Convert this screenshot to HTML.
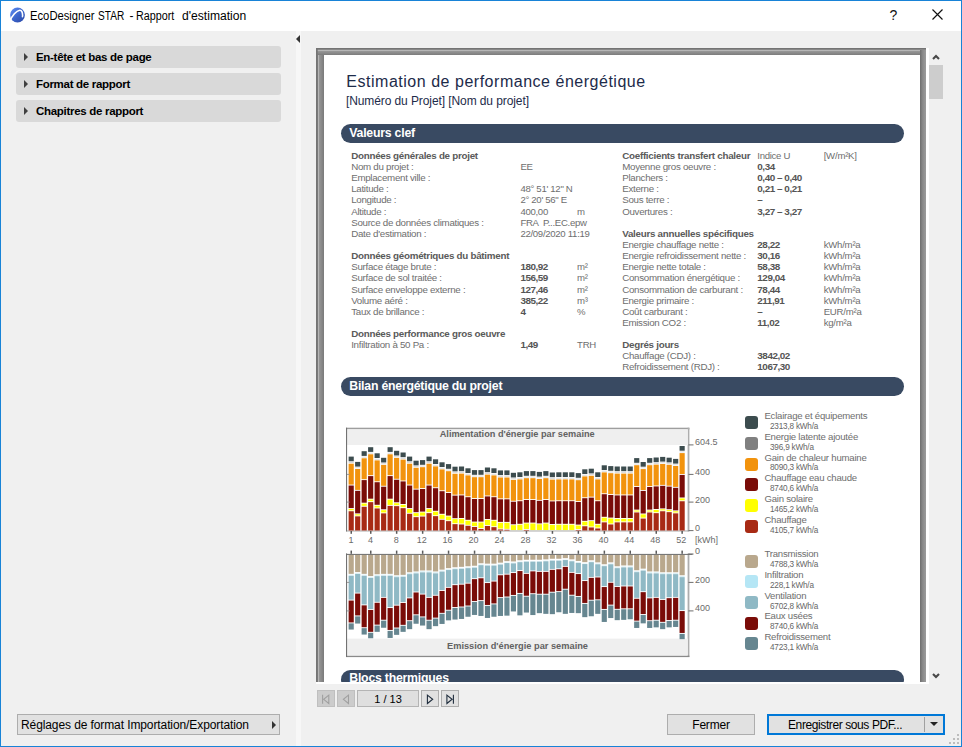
<!DOCTYPE html>
<html lang="fr">
<head>
<meta charset="utf-8">
<title>EcoDesigner STAR - Rapport d'estimation</title>
<style>
*{box-sizing:border-box;margin:0;padding:0}
html,body{width:962px;height:747px;overflow:hidden;background:#f0f0f0}
body{font-family:"Liberation Sans",sans-serif;font-size:12px;color:#000;position:relative}
.abs{position:absolute}
#win{position:absolute;left:0;top:0;width:962px;height:747px;background:#f0f0f0;border:1px solid #1883d7;border-top-width:1px}
#titlebar{position:absolute;left:0;top:0;width:960px;height:30px;background:#fff}
#titlebar .t{position:absolute;left:29.5px;top:7.5px;font-size:12px;color:#000;white-space:nowrap;transform-origin:0 50%}
.acc{position:absolute;left:15px;width:265px;height:22px;background:#d9d9d9;border-radius:3px}
.acc span{position:absolute;left:20px;top:4.5px;font-weight:bold;font-size:11.5px;letter-spacing:-0.3px;white-space:nowrap}
.acc i{position:absolute;left:8px;top:6.9px;width:0;height:0;border-left:4.5px solid #404040;border-top:4px solid transparent;border-bottom:4px solid transparent}
#split{position:absolute;left:295px;top:30px;width:5px;height:715px;background:#f7f7f7}
.btn{position:absolute;background:#e1e1e1;border:1px solid #adadad;font-size:12px;white-space:nowrap}
.nav{position:absolute;top:689px;height:17px;width:18px;background:#e1e1e1;border:1px solid #adadad}
.nav.dis{background:#cccccc;border-color:#bfbfbf}
/* preview */
#frame{position:absolute;left:315px;top:47px;width:610px;height:634px;background:#8c8c8c;overflow:hidden}
#page{position:absolute;left:8px;top:7px;width:596px;height:640px;background:#fff;overflow:hidden}
#page, #page *{font-family:"Liberation Sans",sans-serif}
.sec{position:absolute;left:16.7px;width:563.5px;height:18.7px;background:#394a62;border-radius:9.4px;color:#fff;font-weight:bold;font-size:12.3px;line-height:18px;padding-left:8.6px;white-space:nowrap;letter-spacing:-0.23px}
.kv{position:absolute;font-size:9.75px;letter-spacing:-0.29px;line-height:11px;height:11px;color:#6e6e6e;white-space:pre}
.kv b{color:#5a5a5a;font-size:9.8px;letter-spacing:-0.27px}
.kv.v{font-size:9.6px;letter-spacing:-0.3px}
.kv.u{font-size:9.6px;letter-spacing:-0.23px}
.kv.v b{font-size:9.9px;letter-spacing:-0.45px;color:#555}
.lg{position:absolute;left:421px;width:13px;height:13px;border-radius:3px}
.lt{position:absolute;left:440.4px;font-size:9.6px;line-height:10px;color:#6e6e6e;white-space:nowrap;letter-spacing:-0.22px}
.lv{position:absolute;left:446px;font-size:8.2px;line-height:9px;color:#666;white-space:nowrap;letter-spacing:-0.2px}
</style>
</head>
<body>
<div id="win">
  <div id="titlebar">
    <svg class="abs" style="left:8px;top:6px" width="18" height="18" viewBox="0 0 18 18">
      <defs><linearGradient id="ig" x1="0" y1="0" x2="1" y2="1"><stop offset="0" stop-color="#5f8ff5"/><stop offset="0.55" stop-color="#3a62c8"/><stop offset="1" stop-color="#2a48a4"/></linearGradient></defs>
      <circle cx="8.5" cy="8" r="7.4" fill="url(#ig)"/>
      <path d="M0.5 14.8 C3.1 8.4 7.5 3.6 10.7 3.2 C12.8 3.1 13.7 5.7 13.6 9.0" fill="none" stroke="#fff" stroke-width="1.6" stroke-linecap="round"/>
      <circle cx="13.4" cy="9.7" r="0.8" fill="#fff"/>
    </svg>
    <div class="t" style="left:28.8px;transform:scaleX(0.937)">EcoDesigner</div><div class="t" style="left:97.1px;transform:scaleX(0.842)">STAR</div><div class="t" style="left:128.4px">-</div><div class="t" style="left:134.6px;transform:scaleX(0.895)">Rapport</div><div class="t" style="left:180.7px;transform:scaleX(1.01)">d'estimation</div>
    <div class="abs" style="left:888.5px;top:6px;font-size:14px;color:#111">?</div>
    <svg class="abs" style="left:930.2px;top:7.4px" width="13" height="13" viewBox="0 0 13 13"><path d="M1.5 1.5 L11.5 11.5 M11.5 1.5 L1.5 11.5" stroke="#111" stroke-width="1.15" fill="none"/></svg>
  </div>

  <!-- left panel -->
  <div class="acc" style="top:45px"><i></i><span>En-tête et bas de page</span></div>
  <div class="acc" style="top:72px"><i></i><span>Format de rapport</span></div>
  <div class="acc" style="top:99px"><i></i><span>Chapitres de rapport</span></div>
  <div id="split"></div>
  <div class="abs" style="left:295px;top:33.5px;width:0;height:0;border-right:4.5px solid #333;border-top:4px solid transparent;border-bottom:4px solid transparent"></div>

  <div class="btn" style="left:16px;top:713px;width:263px;height:21px"><span class="abs" style="left:3px;top:3px;letter-spacing:-0.1px">Réglages de format Importation/Exportation</span>
    <i class="abs" style="left:254px;top:5.5px;width:0;height:0;border-left:4.5px solid #333;border-top:4px solid transparent;border-bottom:4px solid transparent"></i></div>

  <!-- preview frame -->
  <div id="frame">
    <div class="abs" style="left:0;top:0;width:8px;height:634px;background:linear-gradient(90deg,#747474 0,#747474 1.3px,#b6b6b6 2.0px,#b6b6b6 2.5px,#969696 3.3px,#7a7a7a 8px)"></div>
    <div class="abs" style="left:0;top:0;width:611px;height:7px;background:linear-gradient(180deg,#747474 0,#747474 1.3px,#b6b6b6 2.0px,#b6b6b6 2.5px,#969696 3.3px,#7c7c7c 7px)"></div>
    <div class="abs" style="left:0;top:0;width:2px;height:634px;background:linear-gradient(90deg,#747474 0,#747474 1.3px,rgba(116,116,116,0) 2px)"></div>
    <div class="abs" style="left:604px;top:2px;width:6px;height:632px;background:linear-gradient(90deg,#6e6e6e,#8a8a8a 45%,#9c9c9c)"></div>
    <div id="page">
      <div class="abs" style="left:22.3px;top:17.5px;font-size:16px;letter-spacing:0.52px;color:#1d2b4a;white-space:nowrap">Estimation de performance énergétique</div>
      <div class="abs" style="left:21.9px;top:38.5px;font-size:12px;letter-spacing:-0.09px;color:#1d2b4a;white-space:nowrap">[Numéro du Projet] [Nom du projet]</div>
      <div class="sec" style="top:69px">Valeurs clef</div>
      <div class="kv " style="left:27.2px;top:95px"><b>Données générales de projet</b></div><div class="kv " style="left:27.2px;top:106px">Nom du projet :</div><div class="kv " style="left:27.2px;top:117px">Emplacement ville :</div><div class="kv " style="left:27.2px;top:128px">Latitude :</div><div class="kv " style="left:27.2px;top:139px">Longitude :</div><div class="kv " style="left:27.2px;top:151px">Altitude :</div><div class="kv " style="left:27.2px;top:162px">Source de données climatiques :</div><div class="kv " style="left:27.2px;top:173px">Date d'estimation :</div><div class="kv " style="left:27.2px;top:195px"><b>Données géométriques du bâtiment</b></div><div class="kv " style="left:27.2px;top:206px">Surface étage brute :</div><div class="kv " style="left:27.2px;top:217px">Surface de sol traitée :</div><div class="kv " style="left:27.2px;top:229px">Surface enveloppe externe :</div><div class="kv " style="left:27.2px;top:240px">Volume aéré :</div><div class="kv " style="left:27.2px;top:251px">Taux de brillance :</div><div class="kv " style="left:27.2px;top:273px"><b>Données performance gros oeuvre</b></div><div class="kv " style="left:27.2px;top:284px">Infiltration à 50 Pa :</div><div class="kv v" style="left:196.4px;top:106px">EE</div><div class="kv v" style="left:196.4px;top:128px">48° 51' 12" N</div><div class="kv v" style="left:196.4px;top:139px">2° 20' 56" E</div><div class="kv v" style="left:196.4px;top:151px">400,00</div><div class="kv v" style="left:196.4px;top:162px">FRA  P...EC.epw</div><div class="kv v" style="left:196.4px;top:173px">22/09/2020 11:19</div><div class="kv v" style="left:196.4px;top:206px"><b>180,92</b></div><div class="kv v" style="left:196.4px;top:217px"><b>156,59</b></div><div class="kv v" style="left:196.4px;top:229px"><b>127,46</b></div><div class="kv v" style="left:196.4px;top:240px"><b>385,22</b></div><div class="kv v" style="left:196.4px;top:251px"><b>4</b></div><div class="kv v" style="left:196.4px;top:284px"><b>1,49</b></div><div class="kv u" style="left:253px;top:151px">m</div><div class="kv u" style="left:253px;top:206px">m²</div><div class="kv u" style="left:253px;top:217px">m²</div><div class="kv u" style="left:253px;top:229px">m²</div><div class="kv u" style="left:253px;top:240px">m³</div><div class="kv u" style="left:253px;top:251px">%</div><div class="kv u" style="left:253px;top:284px">TRH</div><div class="kv " style="left:298.2px;top:95px"><b>Coefficients transfert chaleur</b></div><div class="kv " style="left:298.2px;top:106px">Moyenne gros oeuvre :</div><div class="kv " style="left:298.2px;top:117px">Planchers :</div><div class="kv " style="left:298.2px;top:128px">Externe :</div><div class="kv " style="left:298.2px;top:139px">Sous terre :</div><div class="kv " style="left:298.2px;top:151px">Ouvertures :</div><div class="kv " style="left:298.2px;top:173px"><b>Valeurs annuelles spécifiques</b></div><div class="kv " style="left:298.2px;top:184px">Energie chauffage nette :</div><div class="kv " style="left:298.2px;top:195px">Energie refroidissement nette :</div><div class="kv " style="left:298.2px;top:206px">Energie nette totale :</div><div class="kv " style="left:298.2px;top:217px">Consommation énergétique :</div><div class="kv " style="left:298.2px;top:229px">Consommation de carburant :</div><div class="kv " style="left:298.2px;top:240px">Energie primaire :</div><div class="kv " style="left:298.2px;top:251px">Coût carburant :</div><div class="kv " style="left:298.2px;top:262px">Emission CO2 :</div><div class="kv " style="left:298.2px;top:284px"><b>Degrés jours</b></div><div class="kv " style="left:298.2px;top:295px">Chauffage (CDJ) :</div><div class="kv " style="left:298.2px;top:306px">Refroidissement (RDJ) :</div><div class="kv v" style="left:433.3px;top:95px">Indice U</div><div class="kv v" style="left:433.3px;top:106px"><b>0,34</b></div><div class="kv v" style="left:433.3px;top:117px"><b>0,40 – 0,40</b></div><div class="kv v" style="left:433.3px;top:128px"><b>0,21 – 0,21</b></div><div class="kv v" style="left:433.3px;top:139px"><b>–</b></div><div class="kv v" style="left:433.3px;top:151px"><b>3,27 – 3,27</b></div><div class="kv v" style="left:433.3px;top:184px"><b>28,22</b></div><div class="kv v" style="left:433.3px;top:195px"><b>30,16</b></div><div class="kv v" style="left:433.3px;top:206px"><b>58,38</b></div><div class="kv v" style="left:433.3px;top:217px"><b>129,04</b></div><div class="kv v" style="left:433.3px;top:229px"><b>78,44</b></div><div class="kv v" style="left:433.3px;top:240px"><b>211,91</b></div><div class="kv v" style="left:433.3px;top:251px"><b>–</b></div><div class="kv v" style="left:433.3px;top:262px"><b>11,02</b></div><div class="kv v" style="left:433.3px;top:295px"><b>3842,02</b></div><div class="kv v" style="left:433.3px;top:306px"><b>1067,30</b></div><div class="kv u" style="left:499.7px;top:95px">[W/m²K]</div><div class="kv u" style="left:499.7px;top:184px">kWh/m²a</div><div class="kv u" style="left:499.7px;top:195px">kWh/m²a</div><div class="kv u" style="left:499.7px;top:206px">kWh/m²a</div><div class="kv u" style="left:499.7px;top:217px">kWh/m²a</div><div class="kv u" style="left:499.7px;top:229px">kWh/m²a</div><div class="kv u" style="left:499.7px;top:240px">kWh/m²a</div><div class="kv u" style="left:499.7px;top:251px">EUR/m²a</div><div class="kv u" style="left:499.7px;top:262px">kg/m²a</div>
      <div class="sec" style="top:322px">Bilan énergétique du projet</div>
      <svg class="abs" style="left:0;top:0" width="596" height="640" viewBox="0 0 596 640" font-family="Liberation Sans, sans-serif">
<rect x="22.5" y="373.6" width="342.0" height="227.60000000000002" fill="#fff"/>
<rect x="22.0" y="372.7" width="343.4" height="1.8" fill="#9e9e9e"/>
<rect x="363.6" y="372.7" width="1.8" height="229.3" fill="#adadad"/>
<rect x="22.0" y="600.6" width="343.4" height="1.5" fill="#8a8a8a"/>
<rect x="23.1" y="374.20000000000005" width="340.8" height="15.799999999999978" fill="#efefef"/>
<rect x="23.1" y="583.6" width="340.8" height="16.800000000000022" fill="#efefef"/>
<rect x="22.0" y="372.7" width="1.1" height="229.3" fill="#727272"/>
<rect x="22.5" y="475.6" width="342.0" height="1" fill="#8c8c8c"/>
<rect x="20.5" y="476.6" width="346.0" height="21.8" fill="#fff"/>
<rect x="24.62" y="401.60" width="5.15" height="4.70" fill="#3c4c4e"/><rect x="24.62" y="407.00" width="5.15" height="1.00" fill="#d9d9d9"/><rect x="24.62" y="408.70" width="5.15" height="20.90" fill="#f2930d"/><rect x="24.62" y="430.50" width="5.15" height="22.60" fill="#7a0c08"/><rect x="24.62" y="454.00" width="5.15" height="1.35" fill="#ffff00"/><rect x="24.62" y="456.25" width="5.15" height="19.25" fill="#a82a14"/><rect x="31.11" y="406.90" width="5.15" height="4.70" fill="#3c4c4e"/><rect x="31.11" y="412.30" width="5.15" height="1.00" fill="#d9d9d9"/><rect x="31.11" y="414.00" width="5.15" height="20.90" fill="#f2930d"/><rect x="31.11" y="435.80" width="5.15" height="22.60" fill="#7a0c08"/><rect x="31.11" y="459.30" width="5.15" height="1.15" fill="#ffff00"/><rect x="31.11" y="461.35" width="5.15" height="14.15" fill="#a82a14"/><rect x="37.60" y="396.20" width="5.15" height="4.70" fill="#3c4c4e"/><rect x="37.60" y="401.60" width="5.15" height="1.00" fill="#d9d9d9"/><rect x="37.60" y="403.30" width="5.15" height="20.90" fill="#f2930d"/><rect x="37.60" y="425.10" width="5.15" height="22.60" fill="#7a0c08"/><rect x="37.60" y="448.60" width="5.15" height="2.25" fill="#ffff00"/><rect x="37.60" y="451.75" width="5.15" height="23.75" fill="#a82a14"/><rect x="44.09" y="392.20" width="5.15" height="4.70" fill="#3c4c4e"/><rect x="44.09" y="397.60" width="5.15" height="1.00" fill="#d9d9d9"/><rect x="44.09" y="399.30" width="5.15" height="20.90" fill="#f2930d"/><rect x="44.09" y="421.10" width="5.15" height="22.60" fill="#7a0c08"/><rect x="44.09" y="444.60" width="5.15" height="1.65" fill="#ffff00"/><rect x="44.09" y="447.15" width="5.15" height="28.35" fill="#a82a14"/><rect x="50.58" y="398.30" width="5.15" height="4.70" fill="#3c4c4e"/><rect x="50.58" y="403.70" width="5.15" height="1.00" fill="#d9d9d9"/><rect x="50.58" y="405.40" width="5.15" height="20.90" fill="#f2930d"/><rect x="50.58" y="427.20" width="5.15" height="22.60" fill="#7a0c08"/><rect x="50.58" y="450.70" width="5.15" height="1.85" fill="#ffff00"/><rect x="50.58" y="453.45" width="5.15" height="22.05" fill="#a82a14"/><rect x="57.07" y="402.80" width="5.15" height="4.70" fill="#3c4c4e"/><rect x="57.07" y="408.20" width="5.15" height="1.00" fill="#d9d9d9"/><rect x="57.07" y="409.90" width="5.15" height="20.90" fill="#f2930d"/><rect x="57.07" y="431.70" width="5.15" height="22.60" fill="#7a0c08"/><rect x="57.07" y="455.20" width="5.15" height="2.25" fill="#ffff00"/><rect x="57.07" y="458.35" width="5.15" height="17.15" fill="#a82a14"/><rect x="63.56" y="392.20" width="5.15" height="4.70" fill="#3c4c4e"/><rect x="63.56" y="397.60" width="5.15" height="1.00" fill="#d9d9d9"/><rect x="63.56" y="399.30" width="5.15" height="20.90" fill="#f2930d"/><rect x="63.56" y="421.10" width="5.15" height="22.60" fill="#7a0c08"/><rect x="63.56" y="444.60" width="5.15" height="5.35" fill="#ffff00"/><rect x="63.56" y="450.85" width="5.15" height="24.65" fill="#a82a14"/><rect x="70.05" y="395.80" width="5.15" height="4.70" fill="#3c4c4e"/><rect x="70.05" y="401.20" width="5.15" height="1.00" fill="#d9d9d9"/><rect x="70.05" y="402.90" width="5.15" height="20.90" fill="#f2930d"/><rect x="70.05" y="424.70" width="5.15" height="22.60" fill="#7a0c08"/><rect x="70.05" y="448.20" width="5.15" height="2.05" fill="#ffff00"/><rect x="70.05" y="451.15" width="5.15" height="24.35" fill="#a82a14"/><rect x="76.54" y="397.50" width="5.15" height="4.70" fill="#3c4c4e"/><rect x="76.54" y="402.90" width="5.15" height="1.00" fill="#d9d9d9"/><rect x="76.54" y="404.60" width="5.15" height="20.90" fill="#f2930d"/><rect x="76.54" y="426.40" width="5.15" height="22.60" fill="#7a0c08"/><rect x="76.54" y="449.90" width="5.15" height="2.35" fill="#ffff00"/><rect x="76.54" y="453.15" width="5.15" height="22.35" fill="#a82a14"/><rect x="83.03" y="401.60" width="5.15" height="4.70" fill="#3c4c4e"/><rect x="83.03" y="407.00" width="5.15" height="1.00" fill="#d9d9d9"/><rect x="83.03" y="408.70" width="5.15" height="20.90" fill="#f2930d"/><rect x="83.03" y="430.50" width="5.15" height="22.60" fill="#7a0c08"/><rect x="83.03" y="454.00" width="5.15" height="3.85" fill="#ffff00"/><rect x="83.03" y="458.75" width="5.15" height="16.75" fill="#a82a14"/><rect x="89.51" y="405.70" width="5.15" height="4.70" fill="#3c4c4e"/><rect x="89.51" y="411.10" width="5.15" height="1.00" fill="#d9d9d9"/><rect x="89.51" y="412.80" width="5.15" height="20.90" fill="#f2930d"/><rect x="89.51" y="434.60" width="5.15" height="22.60" fill="#7a0c08"/><rect x="89.51" y="458.10" width="5.15" height="3.15" fill="#ffff00"/><rect x="89.51" y="462.15" width="5.15" height="13.35" fill="#a82a14"/><rect x="96.00" y="405.10" width="5.15" height="4.70" fill="#3c4c4e"/><rect x="96.00" y="410.50" width="5.15" height="1.00" fill="#d9d9d9"/><rect x="96.00" y="412.20" width="5.15" height="20.90" fill="#f2930d"/><rect x="96.00" y="434.00" width="5.15" height="22.60" fill="#7a0c08"/><rect x="96.00" y="457.50" width="5.15" height="3.15" fill="#ffff00"/><rect x="96.00" y="461.55" width="5.15" height="13.95" fill="#a82a14"/><rect x="102.49" y="401.60" width="5.15" height="4.70" fill="#3c4c4e"/><rect x="102.49" y="407.00" width="5.15" height="1.00" fill="#d9d9d9"/><rect x="102.49" y="408.70" width="5.15" height="20.90" fill="#f2930d"/><rect x="102.49" y="430.50" width="5.15" height="22.60" fill="#7a0c08"/><rect x="102.49" y="454.00" width="5.15" height="3.25" fill="#ffff00"/><rect x="102.49" y="458.15" width="5.15" height="17.35" fill="#a82a14"/><rect x="108.98" y="404.30" width="5.15" height="4.70" fill="#3c4c4e"/><rect x="108.98" y="409.70" width="5.15" height="1.00" fill="#d9d9d9"/><rect x="108.98" y="411.40" width="5.15" height="20.90" fill="#f2930d"/><rect x="108.98" y="433.20" width="5.15" height="22.60" fill="#7a0c08"/><rect x="108.98" y="456.70" width="5.15" height="3.55" fill="#ffff00"/><rect x="108.98" y="461.15" width="5.15" height="14.35" fill="#a82a14"/><rect x="115.47" y="407.30" width="5.15" height="4.70" fill="#3c4c4e"/><rect x="115.47" y="412.70" width="5.15" height="1.00" fill="#d9d9d9"/><rect x="115.47" y="414.40" width="5.15" height="20.90" fill="#f2930d"/><rect x="115.47" y="436.20" width="5.15" height="22.60" fill="#7a0c08"/><rect x="115.47" y="459.70" width="5.15" height="4.15" fill="#ffff00"/><rect x="115.47" y="464.75" width="5.15" height="10.75" fill="#a82a14"/><rect x="121.96" y="409.10" width="5.15" height="4.70" fill="#3c4c4e"/><rect x="121.96" y="414.50" width="5.15" height="1.00" fill="#d9d9d9"/><rect x="121.96" y="416.20" width="5.15" height="20.90" fill="#f2930d"/><rect x="121.96" y="438.00" width="5.15" height="22.60" fill="#7a0c08"/><rect x="121.96" y="461.50" width="5.15" height="3.75" fill="#ffff00"/><rect x="121.96" y="466.15" width="5.15" height="9.35" fill="#a82a14"/><rect x="128.45" y="411.70" width="5.15" height="4.70" fill="#3c4c4e"/><rect x="128.45" y="417.10" width="5.15" height="1.00" fill="#d9d9d9"/><rect x="128.45" y="418.80" width="5.15" height="20.90" fill="#f2930d"/><rect x="128.45" y="440.60" width="5.15" height="22.60" fill="#7a0c08"/><rect x="128.45" y="464.10" width="5.15" height="4.15" fill="#ffff00"/><rect x="128.45" y="469.15" width="5.15" height="6.35" fill="#a82a14"/><rect x="134.94" y="411.50" width="5.15" height="4.70" fill="#3c4c4e"/><rect x="134.94" y="416.90" width="5.15" height="1.00" fill="#d9d9d9"/><rect x="134.94" y="418.60" width="5.15" height="20.90" fill="#f2930d"/><rect x="134.94" y="440.40" width="5.15" height="22.60" fill="#7a0c08"/><rect x="134.94" y="463.90" width="5.15" height="4.65" fill="#ffff00"/><rect x="134.94" y="469.45" width="5.15" height="6.05" fill="#a82a14"/><rect x="141.43" y="413.30" width="5.15" height="4.70" fill="#3c4c4e"/><rect x="141.43" y="418.70" width="5.15" height="1.00" fill="#d9d9d9"/><rect x="141.43" y="420.40" width="5.15" height="20.90" fill="#f2930d"/><rect x="141.43" y="442.20" width="5.15" height="22.60" fill="#7a0c08"/><rect x="141.43" y="465.70" width="5.15" height="4.15" fill="#ffff00"/><rect x="141.43" y="470.75" width="5.15" height="4.75" fill="#a82a14"/><rect x="147.92" y="415.10" width="5.15" height="4.70" fill="#3c4c4e"/><rect x="147.92" y="420.50" width="5.15" height="1.00" fill="#d9d9d9"/><rect x="147.92" y="422.20" width="5.15" height="20.90" fill="#f2930d"/><rect x="147.92" y="444.00" width="5.15" height="22.60" fill="#7a0c08"/><rect x="147.92" y="467.50" width="5.15" height="3.55" fill="#ffff00"/><rect x="147.92" y="471.95" width="5.15" height="3.55" fill="#a82a14"/><rect x="154.41" y="415.10" width="5.15" height="4.70" fill="#3c4c4e"/><rect x="154.41" y="420.50" width="5.15" height="1.00" fill="#d9d9d9"/><rect x="154.41" y="422.20" width="5.15" height="20.90" fill="#f2930d"/><rect x="154.41" y="444.00" width="5.15" height="22.60" fill="#7a0c08"/><rect x="154.41" y="467.50" width="5.15" height="5.55" fill="#ffff00"/><rect x="154.41" y="473.95" width="5.15" height="1.55" fill="#a82a14"/><rect x="160.89" y="412.50" width="5.15" height="4.70" fill="#3c4c4e"/><rect x="160.89" y="417.90" width="5.15" height="1.00" fill="#d9d9d9"/><rect x="160.89" y="419.60" width="5.15" height="20.90" fill="#f2930d"/><rect x="160.89" y="441.40" width="5.15" height="22.60" fill="#7a0c08"/><rect x="160.89" y="464.90" width="5.15" height="5.15" fill="#ffff00"/><rect x="160.89" y="470.95" width="5.15" height="4.55" fill="#a82a14"/><rect x="167.38" y="413.30" width="5.15" height="4.70" fill="#3c4c4e"/><rect x="167.38" y="418.70" width="5.15" height="1.00" fill="#d9d9d9"/><rect x="167.38" y="420.40" width="5.15" height="20.90" fill="#f2930d"/><rect x="167.38" y="442.20" width="5.15" height="22.60" fill="#7a0c08"/><rect x="167.38" y="465.70" width="5.15" height="5.55" fill="#ffff00"/><rect x="167.38" y="472.15" width="5.15" height="3.35" fill="#a82a14"/><rect x="173.87" y="415.40" width="5.15" height="4.70" fill="#3c4c4e"/><rect x="173.87" y="420.80" width="5.15" height="1.00" fill="#d9d9d9"/><rect x="173.87" y="422.50" width="5.15" height="20.90" fill="#f2930d"/><rect x="173.87" y="444.30" width="5.15" height="22.60" fill="#7a0c08"/><rect x="173.87" y="467.80" width="5.15" height="5.75" fill="#ffff00"/><rect x="173.87" y="474.45" width="5.15" height="1.05" fill="#a82a14"/><rect x="180.36" y="415.40" width="5.15" height="4.70" fill="#3c4c4e"/><rect x="180.36" y="420.80" width="5.15" height="1.00" fill="#d9d9d9"/><rect x="180.36" y="422.50" width="5.15" height="20.90" fill="#f2930d"/><rect x="180.36" y="444.30" width="5.15" height="22.60" fill="#7a0c08"/><rect x="180.36" y="467.80" width="5.15" height="6.05" fill="#ffff00"/><rect x="180.36" y="474.75" width="5.15" height="0.75" fill="#a82a14"/><rect x="186.85" y="417.80" width="5.15" height="4.70" fill="#3c4c4e"/><rect x="186.85" y="423.20" width="5.15" height="1.00" fill="#d9d9d9"/><rect x="186.85" y="424.90" width="5.15" height="20.90" fill="#f2930d"/><rect x="186.85" y="446.70" width="5.15" height="22.60" fill="#7a0c08"/><rect x="186.85" y="470.20" width="5.15" height="4.85" fill="#ffff00"/><rect x="193.34" y="417.30" width="5.15" height="4.70" fill="#3c4c4e"/><rect x="193.34" y="422.70" width="5.15" height="1.00" fill="#d9d9d9"/><rect x="193.34" y="424.40" width="5.15" height="20.90" fill="#f2930d"/><rect x="193.34" y="446.20" width="5.15" height="22.60" fill="#7a0c08"/><rect x="193.34" y="469.70" width="5.15" height="5.35" fill="#ffff00"/><rect x="199.83" y="416.10" width="5.15" height="4.70" fill="#3c4c4e"/><rect x="199.83" y="421.50" width="5.15" height="1.00" fill="#d9d9d9"/><rect x="199.83" y="423.20" width="5.15" height="20.90" fill="#f2930d"/><rect x="199.83" y="445.00" width="5.15" height="22.60" fill="#7a0c08"/><rect x="199.83" y="468.50" width="5.15" height="5.55" fill="#ffff00"/><rect x="199.83" y="474.95" width="5.15" height="0.55" fill="#a82a14"/><rect x="206.32" y="416.10" width="5.15" height="4.70" fill="#3c4c4e"/><rect x="206.32" y="421.50" width="5.15" height="1.00" fill="#d9d9d9"/><rect x="206.32" y="423.20" width="5.15" height="20.90" fill="#f2930d"/><rect x="206.32" y="445.00" width="5.15" height="22.60" fill="#7a0c08"/><rect x="206.32" y="468.50" width="5.15" height="6.55" fill="#ffff00"/><rect x="212.81" y="416.90" width="5.15" height="4.70" fill="#3c4c4e"/><rect x="212.81" y="422.30" width="5.15" height="1.00" fill="#d9d9d9"/><rect x="212.81" y="424.00" width="5.15" height="20.90" fill="#f2930d"/><rect x="212.81" y="445.80" width="5.15" height="22.60" fill="#7a0c08"/><rect x="212.81" y="469.30" width="5.15" height="5.75" fill="#ffff00"/><rect x="219.29" y="416.10" width="5.15" height="4.70" fill="#3c4c4e"/><rect x="219.29" y="421.50" width="5.15" height="1.00" fill="#d9d9d9"/><rect x="219.29" y="423.20" width="5.15" height="20.90" fill="#f2930d"/><rect x="219.29" y="445.00" width="5.15" height="22.60" fill="#7a0c08"/><rect x="219.29" y="468.50" width="5.15" height="6.55" fill="#ffff00"/><rect x="225.78" y="417.50" width="5.15" height="4.70" fill="#3c4c4e"/><rect x="225.78" y="422.90" width="5.15" height="1.00" fill="#d9d9d9"/><rect x="225.78" y="424.60" width="5.15" height="20.90" fill="#f2930d"/><rect x="225.78" y="446.40" width="5.15" height="22.60" fill="#7a0c08"/><rect x="225.78" y="469.90" width="5.15" height="5.15" fill="#ffff00"/><rect x="232.27" y="417.30" width="5.15" height="4.70" fill="#3c4c4e"/><rect x="232.27" y="422.70" width="5.15" height="1.00" fill="#d9d9d9"/><rect x="232.27" y="424.40" width="5.15" height="20.90" fill="#f2930d"/><rect x="232.27" y="446.20" width="5.15" height="22.60" fill="#7a0c08"/><rect x="232.27" y="469.70" width="5.15" height="5.35" fill="#ffff00"/><rect x="238.76" y="417.30" width="5.15" height="4.70" fill="#3c4c4e"/><rect x="238.76" y="422.70" width="5.15" height="1.00" fill="#d9d9d9"/><rect x="238.76" y="424.40" width="5.15" height="20.90" fill="#f2930d"/><rect x="238.76" y="446.20" width="5.15" height="22.60" fill="#7a0c08"/><rect x="238.76" y="469.70" width="5.15" height="5.35" fill="#ffff00"/><rect x="245.25" y="417.30" width="5.15" height="4.70" fill="#3c4c4e"/><rect x="245.25" y="422.70" width="5.15" height="1.00" fill="#d9d9d9"/><rect x="245.25" y="424.40" width="5.15" height="20.90" fill="#f2930d"/><rect x="245.25" y="446.20" width="5.15" height="22.60" fill="#7a0c08"/><rect x="245.25" y="469.70" width="5.15" height="5.35" fill="#ffff00"/><rect x="251.74" y="418.10" width="5.15" height="4.70" fill="#3c4c4e"/><rect x="251.74" y="423.50" width="5.15" height="1.00" fill="#d9d9d9"/><rect x="251.74" y="425.20" width="5.15" height="20.90" fill="#f2930d"/><rect x="251.74" y="447.00" width="5.15" height="22.60" fill="#7a0c08"/><rect x="251.74" y="470.50" width="5.15" height="3.55" fill="#ffff00"/><rect x="251.74" y="474.95" width="5.15" height="0.55" fill="#a82a14"/><rect x="258.23" y="414.30" width="5.15" height="4.70" fill="#3c4c4e"/><rect x="258.23" y="419.70" width="5.15" height="1.00" fill="#d9d9d9"/><rect x="258.23" y="421.40" width="5.15" height="20.90" fill="#f2930d"/><rect x="258.23" y="443.20" width="5.15" height="22.60" fill="#7a0c08"/><rect x="258.23" y="466.70" width="5.15" height="3.65" fill="#ffff00"/><rect x="258.23" y="471.25" width="5.15" height="4.25" fill="#a82a14"/><rect x="264.72" y="413.70" width="5.15" height="4.70" fill="#3c4c4e"/><rect x="264.72" y="419.10" width="5.15" height="1.00" fill="#d9d9d9"/><rect x="264.72" y="420.80" width="5.15" height="20.90" fill="#f2930d"/><rect x="264.72" y="442.60" width="5.15" height="22.60" fill="#7a0c08"/><rect x="264.72" y="466.10" width="5.15" height="5.45" fill="#ffff00"/><rect x="264.72" y="472.45" width="5.15" height="3.05" fill="#a82a14"/><rect x="271.21" y="417.30" width="5.15" height="4.70" fill="#3c4c4e"/><rect x="271.21" y="422.70" width="5.15" height="1.00" fill="#d9d9d9"/><rect x="271.21" y="424.40" width="5.15" height="20.90" fill="#f2930d"/><rect x="271.21" y="446.20" width="5.15" height="22.60" fill="#7a0c08"/><rect x="271.21" y="469.70" width="5.15" height="2.85" fill="#ffff00"/><rect x="271.21" y="473.45" width="5.15" height="2.05" fill="#a82a14"/><rect x="277.70" y="410.30" width="5.15" height="4.70" fill="#3c4c4e"/><rect x="277.70" y="415.70" width="5.15" height="1.00" fill="#d9d9d9"/><rect x="277.70" y="417.40" width="5.15" height="20.90" fill="#f2930d"/><rect x="277.70" y="439.20" width="5.15" height="22.60" fill="#7a0c08"/><rect x="277.70" y="462.70" width="5.15" height="3.75" fill="#ffff00"/><rect x="277.70" y="467.35" width="5.15" height="8.15" fill="#a82a14"/><rect x="284.18" y="411.10" width="5.15" height="4.70" fill="#3c4c4e"/><rect x="284.18" y="416.50" width="5.15" height="1.00" fill="#d9d9d9"/><rect x="284.18" y="418.20" width="5.15" height="20.90" fill="#f2930d"/><rect x="284.18" y="440.00" width="5.15" height="22.60" fill="#7a0c08"/><rect x="284.18" y="463.50" width="5.15" height="5.05" fill="#ffff00"/><rect x="284.18" y="469.45" width="5.15" height="6.05" fill="#a82a14"/><rect x="290.67" y="411.50" width="5.15" height="4.70" fill="#3c4c4e"/><rect x="290.67" y="416.90" width="5.15" height="1.00" fill="#d9d9d9"/><rect x="290.67" y="418.60" width="5.15" height="20.90" fill="#f2930d"/><rect x="290.67" y="440.40" width="5.15" height="22.60" fill="#7a0c08"/><rect x="290.67" y="463.90" width="5.15" height="2.55" fill="#ffff00"/><rect x="290.67" y="467.35" width="5.15" height="8.15" fill="#a82a14"/><rect x="297.16" y="411.50" width="5.15" height="4.70" fill="#3c4c4e"/><rect x="297.16" y="416.90" width="5.15" height="1.00" fill="#d9d9d9"/><rect x="297.16" y="418.60" width="5.15" height="20.90" fill="#f2930d"/><rect x="297.16" y="440.40" width="5.15" height="22.60" fill="#7a0c08"/><rect x="297.16" y="463.90" width="5.15" height="2.55" fill="#ffff00"/><rect x="297.16" y="467.35" width="5.15" height="8.15" fill="#a82a14"/><rect x="303.65" y="411.50" width="5.15" height="4.70" fill="#3c4c4e"/><rect x="303.65" y="416.90" width="5.15" height="1.00" fill="#d9d9d9"/><rect x="303.65" y="418.60" width="5.15" height="20.90" fill="#f2930d"/><rect x="303.65" y="440.40" width="5.15" height="22.60" fill="#7a0c08"/><rect x="303.65" y="463.90" width="5.15" height="2.55" fill="#ffff00"/><rect x="303.65" y="467.35" width="5.15" height="8.15" fill="#a82a14"/><rect x="310.14" y="403.10" width="5.15" height="4.70" fill="#3c4c4e"/><rect x="310.14" y="408.50" width="5.15" height="1.00" fill="#d9d9d9"/><rect x="310.14" y="410.20" width="5.15" height="20.90" fill="#f2930d"/><rect x="310.14" y="432.00" width="5.15" height="22.60" fill="#7a0c08"/><rect x="310.14" y="455.50" width="5.15" height="1.05" fill="#ffff00"/><rect x="310.14" y="457.45" width="5.15" height="18.05" fill="#a82a14"/><rect x="316.63" y="407.00" width="5.15" height="4.70" fill="#3c4c4e"/><rect x="316.63" y="412.40" width="5.15" height="1.00" fill="#d9d9d9"/><rect x="316.63" y="414.10" width="5.15" height="20.90" fill="#f2930d"/><rect x="316.63" y="435.90" width="5.15" height="22.60" fill="#7a0c08"/><rect x="316.63" y="459.40" width="5.15" height="3.25" fill="#ffff00"/><rect x="316.63" y="463.55" width="5.15" height="11.95" fill="#a82a14"/><rect x="323.12" y="403.10" width="5.15" height="4.70" fill="#3c4c4e"/><rect x="323.12" y="408.50" width="5.15" height="1.00" fill="#d9d9d9"/><rect x="323.12" y="410.20" width="5.15" height="20.90" fill="#f2930d"/><rect x="323.12" y="432.00" width="5.15" height="22.60" fill="#7a0c08"/><rect x="323.12" y="455.50" width="5.15" height="1.05" fill="#ffff00"/><rect x="323.12" y="457.45" width="5.15" height="18.05" fill="#a82a14"/><rect x="329.61" y="402.50" width="5.15" height="4.70" fill="#3c4c4e"/><rect x="329.61" y="407.90" width="5.15" height="1.00" fill="#d9d9d9"/><rect x="329.61" y="409.60" width="5.15" height="20.90" fill="#f2930d"/><rect x="329.61" y="431.40" width="5.15" height="22.60" fill="#7a0c08"/><rect x="329.61" y="454.90" width="5.15" height="2.35" fill="#ffff00"/><rect x="329.61" y="458.15" width="5.15" height="17.35" fill="#a82a14"/><rect x="336.10" y="401.90" width="5.15" height="4.70" fill="#3c4c4e"/><rect x="336.10" y="407.30" width="5.15" height="1.00" fill="#d9d9d9"/><rect x="336.10" y="409.00" width="5.15" height="20.90" fill="#f2930d"/><rect x="336.10" y="430.80" width="5.15" height="22.60" fill="#7a0c08"/><rect x="336.10" y="454.30" width="5.15" height="1.05" fill="#ffff00"/><rect x="336.10" y="456.25" width="5.15" height="19.25" fill="#a82a14"/><rect x="342.59" y="402.70" width="5.15" height="4.70" fill="#3c4c4e"/><rect x="342.59" y="408.10" width="5.15" height="1.00" fill="#d9d9d9"/><rect x="342.59" y="409.80" width="5.15" height="20.90" fill="#f2930d"/><rect x="342.59" y="431.60" width="5.15" height="22.60" fill="#7a0c08"/><rect x="342.59" y="455.10" width="5.15" height="1.15" fill="#ffff00"/><rect x="342.59" y="457.15" width="5.15" height="18.35" fill="#a82a14"/><rect x="349.07" y="403.90" width="5.15" height="4.70" fill="#3c4c4e"/><rect x="349.07" y="409.30" width="5.15" height="1.00" fill="#d9d9d9"/><rect x="349.07" y="411.00" width="5.15" height="20.90" fill="#f2930d"/><rect x="349.07" y="432.80" width="5.15" height="22.60" fill="#7a0c08"/><rect x="349.07" y="456.30" width="5.15" height="1.15" fill="#ffff00"/><rect x="349.07" y="458.35" width="5.15" height="17.15" fill="#a82a14"/><rect x="355.56" y="391.00" width="5.15" height="4.70" fill="#3c4c4e"/><rect x="355.56" y="396.40" width="5.15" height="1.00" fill="#d9d9d9"/><rect x="355.56" y="398.10" width="5.15" height="20.90" fill="#f2930d"/><rect x="355.56" y="419.90" width="5.15" height="22.60" fill="#7a0c08"/><rect x="355.56" y="443.40" width="5.15" height="1.95" fill="#ffff00"/><rect x="355.56" y="446.25" width="5.15" height="29.25" fill="#a82a14"/><rect x="24.62" y="499.80" width="5.15" height="19.05" fill="#b9a88d"/><rect x="24.62" y="519.64" width="5.15" height="0.81" fill="#d2edf5"/><rect x="24.62" y="520.75" width="5.15" height="23.90" fill="#8fb9c5"/><rect x="24.62" y="545.55" width="5.15" height="21.90" fill="#7a0c08"/><rect x="24.62" y="568.35" width="5.15" height="6.20" fill="#668690"/><rect x="31.11" y="499.80" width="5.15" height="17.25" fill="#b9a88d"/><rect x="31.11" y="517.90" width="5.15" height="0.75" fill="#d2edf5"/><rect x="31.11" y="518.95" width="5.15" height="18.70" fill="#8fb9c5"/><rect x="31.11" y="538.55" width="5.15" height="21.90" fill="#7a0c08"/><rect x="31.11" y="561.35" width="5.15" height="7.20" fill="#668690"/><rect x="37.60" y="499.80" width="5.15" height="19.05" fill="#b9a88d"/><rect x="37.60" y="519.64" width="5.15" height="0.81" fill="#d2edf5"/><rect x="37.60" y="520.75" width="5.15" height="28.70" fill="#8fb9c5"/><rect x="37.60" y="550.35" width="5.15" height="21.90" fill="#7a0c08"/><rect x="37.60" y="573.15" width="5.15" height="6.40" fill="#668690"/><rect x="44.09" y="499.80" width="5.15" height="21.25" fill="#b9a88d"/><rect x="44.09" y="521.80" width="5.15" height="0.85" fill="#d2edf5"/><rect x="44.09" y="522.95" width="5.15" height="31.10" fill="#8fb9c5"/><rect x="44.09" y="554.95" width="5.15" height="21.90" fill="#7a0c08"/><rect x="44.09" y="577.75" width="5.15" height="5.50" fill="#668690"/><rect x="50.58" y="499.80" width="5.15" height="19.45" fill="#b9a88d"/><rect x="50.58" y="520.03" width="5.15" height="0.82" fill="#d2edf5"/><rect x="50.58" y="521.15" width="5.15" height="25.70" fill="#8fb9c5"/><rect x="50.58" y="547.75" width="5.15" height="21.90" fill="#7a0c08"/><rect x="50.58" y="570.55" width="5.15" height="6.30" fill="#668690"/><rect x="57.07" y="499.80" width="5.15" height="19.05" fill="#b9a88d"/><rect x="57.07" y="519.64" width="5.15" height="0.81" fill="#d2edf5"/><rect x="57.07" y="520.75" width="5.15" height="21.20" fill="#8fb9c5"/><rect x="57.07" y="542.85" width="5.15" height="21.90" fill="#7a0c08"/><rect x="57.07" y="565.65" width="5.15" height="7.10" fill="#668690"/><rect x="63.56" y="499.80" width="5.15" height="19.05" fill="#b9a88d"/><rect x="63.56" y="519.64" width="5.15" height="0.81" fill="#d2edf5"/><rect x="63.56" y="520.75" width="5.15" height="31.40" fill="#8fb9c5"/><rect x="63.56" y="553.05" width="5.15" height="21.90" fill="#7a0c08"/><rect x="63.56" y="575.85" width="5.15" height="7.10" fill="#668690"/><rect x="70.05" y="499.80" width="5.15" height="20.45" fill="#b9a88d"/><rect x="70.05" y="521.00" width="5.15" height="0.85" fill="#d2edf5"/><rect x="70.05" y="522.15" width="5.15" height="27.60" fill="#8fb9c5"/><rect x="70.05" y="550.65" width="5.15" height="21.90" fill="#7a0c08"/><rect x="70.05" y="573.45" width="5.15" height="6.40" fill="#668690"/><rect x="76.54" y="499.80" width="5.15" height="20.05" fill="#b9a88d"/><rect x="76.54" y="520.61" width="5.15" height="0.84" fill="#d2edf5"/><rect x="76.54" y="521.75" width="5.15" height="25.30" fill="#8fb9c5"/><rect x="76.54" y="547.95" width="5.15" height="21.90" fill="#7a0c08"/><rect x="76.54" y="570.75" width="5.15" height="6.10" fill="#668690"/><rect x="83.03" y="499.80" width="5.15" height="17.45" fill="#b9a88d"/><rect x="83.03" y="518.09" width="5.15" height="0.76" fill="#d2edf5"/><rect x="83.03" y="519.15" width="5.15" height="23.30" fill="#8fb9c5"/><rect x="83.03" y="543.35" width="5.15" height="21.90" fill="#7a0c08"/><rect x="83.03" y="566.15" width="5.15" height="8.00" fill="#668690"/><rect x="89.51" y="499.80" width="5.15" height="16.65" fill="#b9a88d"/><rect x="89.51" y="517.32" width="5.15" height="0.73" fill="#d2edf5"/><rect x="89.51" y="518.35" width="5.15" height="18.20" fill="#8fb9c5"/><rect x="89.51" y="537.45" width="5.15" height="21.90" fill="#7a0c08"/><rect x="89.51" y="560.25" width="5.15" height="8.50" fill="#668690"/><rect x="96.00" y="499.80" width="5.15" height="15.65" fill="#b9a88d"/><rect x="96.00" y="516.35" width="5.15" height="0.70" fill="#d2edf5"/><rect x="96.00" y="517.35" width="5.15" height="21.30" fill="#8fb9c5"/><rect x="96.00" y="539.55" width="5.15" height="21.90" fill="#7a0c08"/><rect x="96.00" y="562.35" width="5.15" height="8.20" fill="#668690"/><rect x="102.49" y="499.80" width="5.15" height="15.65" fill="#b9a88d"/><rect x="102.49" y="516.35" width="5.15" height="0.70" fill="#d2edf5"/><rect x="102.49" y="517.35" width="5.15" height="24.60" fill="#8fb9c5"/><rect x="102.49" y="542.85" width="5.15" height="21.90" fill="#7a0c08"/><rect x="102.49" y="565.65" width="5.15" height="8.50" fill="#668690"/><rect x="108.98" y="499.80" width="5.15" height="16.65" fill="#b9a88d"/><rect x="108.98" y="517.32" width="5.15" height="0.73" fill="#d2edf5"/><rect x="108.98" y="518.35" width="5.15" height="21.50" fill="#8fb9c5"/><rect x="108.98" y="540.75" width="5.15" height="21.90" fill="#7a0c08"/><rect x="108.98" y="563.55" width="5.15" height="7.60" fill="#668690"/><rect x="115.47" y="499.80" width="5.15" height="14.85" fill="#b9a88d"/><rect x="115.47" y="515.58" width="5.15" height="0.67" fill="#d2edf5"/><rect x="115.47" y="516.55" width="5.15" height="18.50" fill="#8fb9c5"/><rect x="115.47" y="535.95" width="5.15" height="21.90" fill="#7a0c08"/><rect x="115.47" y="558.75" width="5.15" height="10.20" fill="#668690"/><rect x="121.96" y="499.80" width="5.15" height="13.35" fill="#b9a88d"/><rect x="121.96" y="514.13" width="5.15" height="0.62" fill="#d2edf5"/><rect x="121.96" y="515.05" width="5.15" height="16.90" fill="#8fb9c5"/><rect x="121.96" y="532.85" width="5.15" height="21.90" fill="#7a0c08"/><rect x="121.96" y="555.65" width="5.15" height="9.70" fill="#668690"/><rect x="128.45" y="499.80" width="5.15" height="12.45" fill="#b9a88d"/><rect x="128.45" y="513.26" width="5.15" height="0.59" fill="#d2edf5"/><rect x="128.45" y="514.15" width="5.15" height="15.10" fill="#8fb9c5"/><rect x="128.45" y="530.15" width="5.15" height="21.90" fill="#7a0c08"/><rect x="128.45" y="552.95" width="5.15" height="11.60" fill="#668690"/><rect x="134.94" y="499.80" width="5.15" height="12.05" fill="#b9a88d"/><rect x="134.94" y="512.87" width="5.15" height="0.58" fill="#d2edf5"/><rect x="134.94" y="513.75" width="5.15" height="15.00" fill="#8fb9c5"/><rect x="134.94" y="529.65" width="5.15" height="21.90" fill="#7a0c08"/><rect x="134.94" y="552.45" width="5.15" height="11.50" fill="#668690"/><rect x="141.43" y="499.80" width="5.15" height="11.45" fill="#b9a88d"/><rect x="141.43" y="512.29" width="5.15" height="0.56" fill="#d2edf5"/><rect x="141.43" y="513.15" width="5.15" height="14.60" fill="#8fb9c5"/><rect x="141.43" y="528.65" width="5.15" height="21.90" fill="#7a0c08"/><rect x="141.43" y="551.45" width="5.15" height="10.30" fill="#668690"/><rect x="147.92" y="499.80" width="5.15" height="10.95" fill="#b9a88d"/><rect x="147.92" y="511.80" width="5.15" height="0.55" fill="#d2edf5"/><rect x="147.92" y="512.65" width="5.15" height="10.60" fill="#8fb9c5"/><rect x="147.92" y="524.15" width="5.15" height="21.90" fill="#7a0c08"/><rect x="147.92" y="546.95" width="5.15" height="13.00" fill="#668690"/><rect x="154.41" y="499.80" width="5.15" height="8.45" fill="#b9a88d"/><rect x="154.41" y="509.38" width="5.15" height="0.47" fill="#d2edf5"/><rect x="154.41" y="510.15" width="5.15" height="12.20" fill="#8fb9c5"/><rect x="154.41" y="523.25" width="5.15" height="21.90" fill="#7a0c08"/><rect x="154.41" y="546.05" width="5.15" height="14.90" fill="#668690"/><rect x="160.89" y="499.80" width="5.15" height="8.85" fill="#b9a88d"/><rect x="160.89" y="509.77" width="5.15" height="0.48" fill="#d2edf5"/><rect x="160.89" y="510.55" width="5.15" height="16.60" fill="#8fb9c5"/><rect x="160.89" y="528.05" width="5.15" height="21.90" fill="#7a0c08"/><rect x="160.89" y="550.85" width="5.15" height="12.10" fill="#668690"/><rect x="167.38" y="499.80" width="5.15" height="8.85" fill="#b9a88d"/><rect x="167.38" y="509.77" width="5.15" height="0.48" fill="#d2edf5"/><rect x="167.38" y="510.55" width="5.15" height="15.10" fill="#8fb9c5"/><rect x="167.38" y="526.55" width="5.15" height="21.90" fill="#7a0c08"/><rect x="167.38" y="549.35" width="5.15" height="12.40" fill="#668690"/><rect x="173.87" y="499.80" width="5.15" height="7.85" fill="#b9a88d"/><rect x="173.87" y="508.80" width="5.15" height="0.45" fill="#d2edf5"/><rect x="173.87" y="509.55" width="5.15" height="9.80" fill="#8fb9c5"/><rect x="173.87" y="520.25" width="5.15" height="21.90" fill="#7a0c08"/><rect x="173.87" y="543.05" width="5.15" height="17.90" fill="#668690"/><rect x="180.36" y="499.80" width="5.15" height="6.35" fill="#b9a88d"/><rect x="180.36" y="507.35" width="5.15" height="0.40" fill="#d2edf5"/><rect x="180.36" y="508.05" width="5.15" height="10.70" fill="#8fb9c5"/><rect x="180.36" y="519.65" width="5.15" height="21.90" fill="#7a0c08"/><rect x="180.36" y="542.45" width="5.15" height="18.20" fill="#668690"/><rect x="186.85" y="499.80" width="5.15" height="6.65" fill="#b9a88d"/><rect x="186.85" y="507.64" width="5.15" height="0.41" fill="#d2edf5"/><rect x="186.85" y="508.35" width="5.15" height="8.80" fill="#8fb9c5"/><rect x="186.85" y="518.05" width="5.15" height="21.90" fill="#7a0c08"/><rect x="186.85" y="540.85" width="5.15" height="15.60" fill="#668690"/><rect x="193.34" y="499.80" width="5.15" height="5.45" fill="#b9a88d"/><rect x="193.34" y="506.48" width="5.15" height="0.37" fill="#d2edf5"/><rect x="193.34" y="507.15" width="5.15" height="8.00" fill="#8fb9c5"/><rect x="193.34" y="516.05" width="5.15" height="21.90" fill="#7a0c08"/><rect x="193.34" y="538.85" width="5.15" height="21.50" fill="#668690"/><rect x="199.83" y="499.80" width="5.15" height="4.95" fill="#b9a88d"/><rect x="199.83" y="506.00" width="5.15" height="0.35" fill="#d2edf5"/><rect x="199.83" y="506.65" width="5.15" height="11.30" fill="#8fb9c5"/><rect x="199.83" y="518.85" width="5.15" height="21.90" fill="#7a0c08"/><rect x="199.83" y="541.65" width="5.15" height="15.90" fill="#668690"/><rect x="206.32" y="499.80" width="5.15" height="4.95" fill="#b9a88d"/><rect x="206.32" y="506.00" width="5.15" height="0.35" fill="#d2edf5"/><rect x="206.32" y="506.65" width="5.15" height="8.80" fill="#8fb9c5"/><rect x="206.32" y="516.35" width="5.15" height="21.90" fill="#7a0c08"/><rect x="206.32" y="539.15" width="5.15" height="20.90" fill="#668690"/><rect x="212.81" y="499.80" width="5.15" height="4.95" fill="#b9a88d"/><rect x="212.81" y="506.00" width="5.15" height="0.35" fill="#d2edf5"/><rect x="212.81" y="506.65" width="5.15" height="9.30" fill="#8fb9c5"/><rect x="212.81" y="516.85" width="5.15" height="21.90" fill="#7a0c08"/><rect x="212.81" y="539.65" width="5.15" height="18.50" fill="#668690"/><rect x="219.29" y="499.80" width="5.15" height="4.55" fill="#b9a88d"/><rect x="219.29" y="505.61" width="5.15" height="0.34" fill="#d2edf5"/><rect x="219.29" y="506.25" width="5.15" height="9.70" fill="#8fb9c5"/><rect x="219.29" y="516.85" width="5.15" height="21.90" fill="#7a0c08"/><rect x="219.29" y="539.65" width="5.15" height="19.20" fill="#668690"/><rect x="225.78" y="499.80" width="5.15" height="3.95" fill="#b9a88d"/><rect x="225.78" y="505.03" width="5.15" height="0.32" fill="#d2edf5"/><rect x="225.78" y="505.65" width="5.15" height="8.30" fill="#8fb9c5"/><rect x="225.78" y="514.85" width="5.15" height="21.90" fill="#7a0c08"/><rect x="225.78" y="537.65" width="5.15" height="21.50" fill="#668690"/><rect x="232.27" y="499.80" width="5.15" height="3.95" fill="#b9a88d"/><rect x="232.27" y="505.03" width="5.15" height="0.32" fill="#d2edf5"/><rect x="232.27" y="505.65" width="5.15" height="7.70" fill="#8fb9c5"/><rect x="232.27" y="514.25" width="5.15" height="21.90" fill="#7a0c08"/><rect x="232.27" y="537.05" width="5.15" height="20.20" fill="#668690"/><rect x="238.76" y="499.80" width="5.15" height="3.35" fill="#b9a88d"/><rect x="238.76" y="504.45" width="5.15" height="0.30" fill="#d2edf5"/><rect x="238.76" y="505.05" width="5.15" height="5.90" fill="#8fb9c5"/><rect x="238.76" y="511.85" width="5.15" height="21.90" fill="#7a0c08"/><rect x="238.76" y="534.65" width="5.15" height="24.20" fill="#668690"/><rect x="245.25" y="499.80" width="5.15" height="4.55" fill="#b9a88d"/><rect x="245.25" y="505.61" width="5.15" height="0.34" fill="#d2edf5"/><rect x="245.25" y="506.25" width="5.15" height="10.70" fill="#8fb9c5"/><rect x="245.25" y="517.85" width="5.15" height="21.90" fill="#7a0c08"/><rect x="245.25" y="540.65" width="5.15" height="17.30" fill="#668690"/><rect x="251.74" y="499.80" width="5.15" height="6.15" fill="#b9a88d"/><rect x="251.74" y="507.16" width="5.15" height="0.39" fill="#d2edf5"/><rect x="251.74" y="507.85" width="5.15" height="10.30" fill="#8fb9c5"/><rect x="251.74" y="519.05" width="5.15" height="21.90" fill="#7a0c08"/><rect x="251.74" y="541.85" width="5.15" height="16.30" fill="#668690"/><rect x="258.23" y="499.80" width="5.15" height="7.35" fill="#b9a88d"/><rect x="258.23" y="508.32" width="5.15" height="0.43" fill="#d2edf5"/><rect x="258.23" y="509.05" width="5.15" height="16.10" fill="#8fb9c5"/><rect x="258.23" y="526.05" width="5.15" height="21.90" fill="#7a0c08"/><rect x="258.23" y="548.85" width="5.15" height="13.30" fill="#668690"/><rect x="264.72" y="499.80" width="5.15" height="5.45" fill="#b9a88d"/><rect x="264.72" y="506.48" width="5.15" height="0.37" fill="#d2edf5"/><rect x="264.72" y="507.15" width="5.15" height="14.80" fill="#8fb9c5"/><rect x="264.72" y="522.85" width="5.15" height="21.90" fill="#7a0c08"/><rect x="264.72" y="545.65" width="5.15" height="15.60" fill="#668690"/><rect x="271.21" y="499.80" width="5.15" height="7.55" fill="#b9a88d"/><rect x="271.21" y="508.51" width="5.15" height="0.44" fill="#d2edf5"/><rect x="271.21" y="509.25" width="5.15" height="12.30" fill="#8fb9c5"/><rect x="271.21" y="522.45" width="5.15" height="21.90" fill="#7a0c08"/><rect x="271.21" y="545.25" width="5.15" height="13.60" fill="#668690"/><rect x="277.70" y="499.80" width="5.15" height="9.45" fill="#b9a88d"/><rect x="277.70" y="510.35" width="5.15" height="0.50" fill="#d2edf5"/><rect x="277.70" y="511.15" width="5.15" height="20.00" fill="#8fb9c5"/><rect x="277.70" y="532.05" width="5.15" height="21.90" fill="#7a0c08"/><rect x="277.70" y="554.85" width="5.15" height="12.10" fill="#668690"/><rect x="284.18" y="499.80" width="5.15" height="7.55" fill="#b9a88d"/><rect x="284.18" y="508.51" width="5.15" height="0.44" fill="#d2edf5"/><rect x="284.18" y="509.25" width="5.15" height="17.60" fill="#8fb9c5"/><rect x="284.18" y="527.75" width="5.15" height="21.90" fill="#7a0c08"/><rect x="284.18" y="550.55" width="5.15" height="12.50" fill="#668690"/><rect x="290.67" y="499.80" width="5.15" height="11.45" fill="#b9a88d"/><rect x="290.67" y="512.29" width="5.15" height="0.56" fill="#d2edf5"/><rect x="290.67" y="513.15" width="5.15" height="17.90" fill="#8fb9c5"/><rect x="290.67" y="531.95" width="5.15" height="21.90" fill="#7a0c08"/><rect x="290.67" y="554.75" width="5.15" height="10.40" fill="#668690"/><rect x="297.16" y="499.80" width="5.15" height="10.65" fill="#b9a88d"/><rect x="297.16" y="511.51" width="5.15" height="0.54" fill="#d2edf5"/><rect x="297.16" y="512.35" width="5.15" height="18.20" fill="#8fb9c5"/><rect x="297.16" y="531.45" width="5.15" height="21.90" fill="#7a0c08"/><rect x="297.16" y="554.25" width="5.15" height="10.60" fill="#668690"/><rect x="303.65" y="499.80" width="5.15" height="10.65" fill="#b9a88d"/><rect x="303.65" y="511.51" width="5.15" height="0.54" fill="#d2edf5"/><rect x="303.65" y="512.35" width="5.15" height="18.20" fill="#8fb9c5"/><rect x="303.65" y="531.45" width="5.15" height="21.90" fill="#7a0c08"/><rect x="303.65" y="554.25" width="5.15" height="10.00" fill="#668690"/><rect x="310.14" y="499.80" width="5.15" height="15.45" fill="#b9a88d"/><rect x="310.14" y="516.16" width="5.15" height="0.69" fill="#d2edf5"/><rect x="310.14" y="517.15" width="5.15" height="25.70" fill="#8fb9c5"/><rect x="310.14" y="543.75" width="5.15" height="21.90" fill="#7a0c08"/><rect x="310.14" y="566.55" width="5.15" height="6.40" fill="#668690"/><rect x="316.63" y="499.80" width="5.15" height="13.85" fill="#b9a88d"/><rect x="316.63" y="514.61" width="5.15" height="0.64" fill="#d2edf5"/><rect x="316.63" y="515.55" width="5.15" height="20.70" fill="#8fb9c5"/><rect x="316.63" y="537.15" width="5.15" height="21.90" fill="#7a0c08"/><rect x="316.63" y="559.95" width="5.15" height="8.40" fill="#668690"/><rect x="323.12" y="499.80" width="5.15" height="16.65" fill="#b9a88d"/><rect x="323.12" y="517.32" width="5.15" height="0.73" fill="#d2edf5"/><rect x="323.12" y="518.35" width="5.15" height="24.10" fill="#8fb9c5"/><rect x="323.12" y="543.35" width="5.15" height="21.90" fill="#7a0c08"/><rect x="323.12" y="566.15" width="5.15" height="6.80" fill="#668690"/><rect x="329.61" y="499.80" width="5.15" height="16.65" fill="#b9a88d"/><rect x="329.61" y="517.32" width="5.15" height="0.73" fill="#d2edf5"/><rect x="329.61" y="518.35" width="5.15" height="23.60" fill="#8fb9c5"/><rect x="329.61" y="542.85" width="5.15" height="21.90" fill="#7a0c08"/><rect x="329.61" y="565.65" width="5.15" height="6.70" fill="#668690"/><rect x="336.10" y="499.80" width="5.15" height="17.45" fill="#b9a88d"/><rect x="336.10" y="518.09" width="5.15" height="0.76" fill="#d2edf5"/><rect x="336.10" y="519.15" width="5.15" height="24.90" fill="#8fb9c5"/><rect x="336.10" y="544.95" width="5.15" height="21.90" fill="#7a0c08"/><rect x="336.10" y="567.75" width="5.15" height="6.40" fill="#668690"/><rect x="342.59" y="499.80" width="5.15" height="17.45" fill="#b9a88d"/><rect x="342.59" y="518.09" width="5.15" height="0.76" fill="#d2edf5"/><rect x="342.59" y="519.15" width="5.15" height="23.10" fill="#8fb9c5"/><rect x="342.59" y="543.15" width="5.15" height="21.90" fill="#7a0c08"/><rect x="342.59" y="565.95" width="5.15" height="6.40" fill="#668690"/><rect x="349.07" y="499.80" width="5.15" height="17.45" fill="#b9a88d"/><rect x="349.07" y="518.09" width="5.15" height="0.76" fill="#d2edf5"/><rect x="349.07" y="519.15" width="5.15" height="22.80" fill="#8fb9c5"/><rect x="349.07" y="542.85" width="5.15" height="21.90" fill="#7a0c08"/><rect x="349.07" y="565.65" width="5.15" height="6.30" fill="#668690"/><rect x="355.56" y="499.80" width="5.15" height="20.45" fill="#b9a88d"/><rect x="355.56" y="521.00" width="5.15" height="0.85" fill="#d2edf5"/><rect x="355.56" y="522.15" width="5.15" height="33.00" fill="#8fb9c5"/><rect x="355.56" y="556.05" width="5.15" height="21.90" fill="#7a0c08"/><rect x="355.56" y="578.85" width="5.15" height="5.30" fill="#668690"/>
<rect x="22.5" y="498.9" width="346.0" height="1" fill="#6a6a6a"/>
<g font-size="9" fill="#6b6b6b"><text x="26.9" y="487.70000000000005" text-anchor="middle">1</text><text x="46.4" y="487.70000000000005" text-anchor="middle">4</text><text x="72.3" y="487.70000000000005" text-anchor="middle">8</text><text x="97.7" y="487.70000000000005" text-anchor="middle">12</text><text x="123.6" y="487.70000000000005" text-anchor="middle">16</text><text x="149.6" y="487.70000000000005" text-anchor="middle">20</text><text x="175.5" y="487.70000000000005" text-anchor="middle">24</text><text x="201.5" y="487.70000000000005" text-anchor="middle">28</text><text x="227.5" y="487.70000000000005" text-anchor="middle">32</text><text x="253.4" y="487.70000000000005" text-anchor="middle">36</text><text x="279.4" y="487.70000000000005" text-anchor="middle">40</text><text x="305.3" y="487.70000000000005" text-anchor="middle">44</text><text x="331.3" y="487.70000000000005" text-anchor="middle">48</text><text x="357.2" y="487.70000000000005" text-anchor="middle">52</text><rect x="26.5" y="476" width="1.5" height="2.8" fill="#5a5a5a"/><rect x="26.5" y="495.6" width="1.5" height="3.2" fill="#5a5a5a"/><rect x="46.0" y="476" width="1.5" height="2.8" fill="#5a5a5a"/><rect x="46.0" y="495.6" width="1.5" height="3.2" fill="#5a5a5a"/><rect x="71.9" y="476" width="1.5" height="2.8" fill="#5a5a5a"/><rect x="71.9" y="495.6" width="1.5" height="3.2" fill="#5a5a5a"/><rect x="97.9" y="476" width="1.5" height="2.8" fill="#5a5a5a"/><rect x="97.9" y="495.6" width="1.5" height="3.2" fill="#5a5a5a"/><rect x="123.8" y="476" width="1.5" height="2.8" fill="#5a5a5a"/><rect x="123.8" y="495.6" width="1.5" height="3.2" fill="#5a5a5a"/><rect x="149.8" y="476" width="1.5" height="2.8" fill="#5a5a5a"/><rect x="149.8" y="495.6" width="1.5" height="3.2" fill="#5a5a5a"/><rect x="175.7" y="476" width="1.5" height="2.8" fill="#5a5a5a"/><rect x="175.7" y="495.6" width="1.5" height="3.2" fill="#5a5a5a"/><rect x="201.7" y="476" width="1.5" height="2.8" fill="#5a5a5a"/><rect x="201.7" y="495.6" width="1.5" height="3.2" fill="#5a5a5a"/><rect x="227.7" y="476" width="1.5" height="2.8" fill="#5a5a5a"/><rect x="227.7" y="495.6" width="1.5" height="3.2" fill="#5a5a5a"/><rect x="253.6" y="476" width="1.5" height="2.8" fill="#5a5a5a"/><rect x="253.6" y="495.6" width="1.5" height="3.2" fill="#5a5a5a"/><rect x="279.6" y="476" width="1.5" height="2.8" fill="#5a5a5a"/><rect x="279.6" y="495.6" width="1.5" height="3.2" fill="#5a5a5a"/><rect x="305.5" y="476" width="1.5" height="2.8" fill="#5a5a5a"/><rect x="305.5" y="495.6" width="1.5" height="3.2" fill="#5a5a5a"/><rect x="331.5" y="476" width="1.5" height="2.8" fill="#5a5a5a"/><rect x="331.5" y="495.6" width="1.5" height="3.2" fill="#5a5a5a"/><rect x="357.4" y="476" width="1.5" height="2.8" fill="#5a5a5a"/><rect x="357.4" y="495.6" width="1.5" height="3.2" fill="#5a5a5a"/><text x="371" y="390.3">604.5</text><rect x="364.5" y="389.4" width="5" height="1" fill="#6e6e6e"/><text x="371" y="419.8">400</text><rect x="364.5" y="418.9" width="5" height="1" fill="#6e6e6e"/><text x="371" y="447.5">200</text><rect x="364.5" y="446.6" width="5" height="1" fill="#6e6e6e"/><text x="371" y="476.0">0</text><rect x="364.5" y="475.1" width="5" height="1" fill="#6e6e6e"/><text x="371" y="499.4">0</text><rect x="364.5" y="498.5" width="5" height="1" fill="#6e6e6e"/><text x="371" y="527.8">200</text><rect x="364.5" y="526.9" width="5" height="1" fill="#6e6e6e"/><text x="371" y="556.3">400</text><rect x="364.5" y="555.4" width="5" height="1" fill="#6e6e6e"/><rect x="23" y="418.9" width="2.5" height="1" fill="#999"/><rect x="23" y="446.6" width="2.5" height="1" fill="#999"/><rect x="23" y="526.9" width="2.5" height="1" fill="#999"/><rect x="23" y="555.4" width="2.5" height="1" fill="#999"/>
<text x="371" y="488">[kWh]</text></g>
<g font-size="9.8" font-weight="bold" fill="#626262" text-anchor="middle">
<text x="193.20000000000005" y="382" textLength="155" lengthAdjust="spacingAndGlyphs">Alimentation d'énergie par semaine</text>
<text x="193.5" y="594.2" textLength="141" lengthAdjust="spacingAndGlyphs">Emission d'énergie par semaine</text>
</g>
</svg>
      <div class="lg" style="top:361.2px;background:#3c4c4e"></div><div class="lt" style="top:356.1px">Eclairage et équipements</div><div class="lv" style="top:366.5px">2313,8 kWh/a</div><div class="lg" style="top:381.9px;background:#808080"></div><div class="lt" style="top:376.8px">Energie latente ajoutée</div><div class="lv" style="top:388.2px">396,9 kWh/a</div><div class="lg" style="top:402.5px;background:#f2930d"></div><div class="lt" style="top:398.4px">Gain de chaleur humaine</div><div class="lv" style="top:407.8px">8090,3 kWh/a</div><div class="lg" style="top:423.2px;background:#7a0c08"></div><div class="lt" style="top:418.1px">Chauffage eau chaude</div><div class="lv" style="top:428.5px">8740,6 kWh/a</div><div class="lg" style="top:443.9px;background:#ffff00"></div><div class="lt" style="top:438.8px">Gain solaire</div><div class="lv" style="top:450.2px">1465,2 kWh/a</div><div class="lg" style="top:464.6px;background:#a82a14"></div><div class="lt" style="top:459.5px">Chauffage</div><div class="lv" style="top:470.9px">4105,7 kWh/a</div><div class="lg" style="top:499.7px;background:#b9a88d"></div><div class="lt" style="top:493.6px">Transmission</div><div class="lv" style="top:505.0px">4788,3 kWh/a</div><div class="lg" style="top:520.3px;background:#b5e6f5"></div><div class="lt" style="top:515.2px">Infiltration</div><div class="lv" style="top:525.6px">228,1 kWh/a</div><div class="lg" style="top:540.9px;background:#8fb9c5"></div><div class="lt" style="top:535.8px">Ventilation</div><div class="lv" style="top:547.2px">6702,8 kWh/a</div><div class="lg" style="top:561.6px;background:#7a0c08"></div><div class="lt" style="top:555.5px">Eaux usées</div><div class="lv" style="top:566.9px">8740,6 kWh/a</div><div class="lg" style="top:582.2px;background:#668690"></div><div class="lt" style="top:577.1px">Refroidissement</div><div class="lv" style="top:587.5px">4723,1 kWh/a</div>
      <div class="sec" style="top:615px;line-height:16px">Blocs thermiques</div>
    </div>
  </div>
  <div class="abs" style="left:315px;top:681px;width:613px;height:1.6px;background:#fff"></div>
  <div class="abs" style="left:925px;top:47px;width:3px;height:636px;background:#fff"></div>

  <!-- scrollbar -->
  <div class="abs" style="left:928px;top:47px;width:15px;height:635px;background:#f0f0f0"></div>
  <div class="abs" style="left:928px;top:64px;width:14px;height:34px;background:#cdcdcd"></div>
  <svg class="abs" style="left:930px;top:52px" width="10" height="8" viewBox="0 0 10 8"><path d="M2 5.9 L5 2.9 L8 5.9" stroke="#484848" stroke-width="2.1" fill="none"/></svg>
  <svg class="abs" style="left:930px;top:670.5px" width="10" height="8" viewBox="0 0 10 8"><path d="M2 2.1 L5 5.1 L8 2.1" stroke="#484848" stroke-width="2.1" fill="none"/></svg>

  <!-- nav -->
  <div class="nav dis" style="left:316px"><svg class="abs" style="left:0;top:-0.5px" width="16" height="16" viewBox="0 0 16 16"><path d="M4.6 3.8 V12.8 M10.8 4.1 L5.7 8.3 L10.8 12.5 Z" stroke="#a0a0a0" stroke-width="1.1" fill="none"/></svg></div>
  <div class="nav dis" style="left:336px"><svg class="abs" style="left:0;top:-0.5px" width="16" height="16" viewBox="0 0 16 16"><path d="M10.5 4.1 L5.4 8.3 L10.5 12.5 Z" stroke="#a0a0a0" stroke-width="1.1" fill="none"/></svg></div>
  <div class="nav" style="left:356px;width:62px;background:#dfdfdf;border-color:#b4b4b4;text-align:center;font-size:11px;line-height:15px;padding-top:1px">1 / 13</div>
  <div class="nav" style="left:420px"><svg class="abs" style="left:0;top:-0.5px" width="16" height="16" viewBox="0 0 16 16"><path d="M5.4 4.1 L10.7 8.3 L5.4 12.5 Z" stroke="#1f2d3d" stroke-width="1.1" fill="none"/></svg></div>
  <div class="nav" style="left:440px"><svg class="abs" style="left:0;top:-0.5px" width="16" height="16" viewBox="0 0 16 16"><path d="M4.9 4.1 L10.1 8.3 L4.9 12.5 Z M11.4 3.8 V12.8" stroke="#1f2d3d" stroke-width="1.1" fill="none"/></svg></div>

  <!-- bottom buttons -->
  <div class="btn" style="left:666px;top:713px;width:88px;height:21px;text-align:center;line-height:19px;padding-top:1px;letter-spacing:-0.2px">Fermer</div>
  <div class="btn" style="left:766px;top:713px;width:178px;height:21px;border:2px solid #0078d7">
    <span class="abs" style="left:19px;top:2px;letter-spacing:-0.4px">Enregistrer sous PDF...</span>
    <div class="abs" style="left:155px;top:1px;width:1px;height:15px;background:#a0a0a0"></div>
    <i class="abs" style="left:161px;top:6px;width:0;height:0;border-top:4.5px solid #222;border-left:4px solid transparent;border-right:4px solid transparent"></i>
  </div>
  <!-- grip -->
  <svg class="abs" style="left:947px;top:732px" width="12" height="12" viewBox="0 0 12 12" fill="#bdbdbd"><rect x="9" y="1" width="2" height="2"/><rect x="5" y="5" width="2" height="2"/><rect x="9" y="5" width="2" height="2"/><rect x="1" y="9" width="2" height="2"/><rect x="5" y="9" width="2" height="2"/><rect x="9" y="9" width="2" height="2"/></svg>
</div>
</body>
</html>
